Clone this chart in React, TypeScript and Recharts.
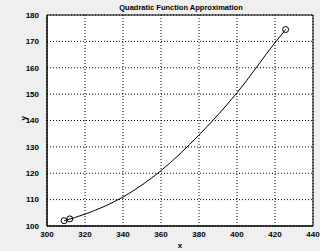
import { ComposedChart, Line, Scatter, XAxis, YAxis, CartesianGrid, ReferenceArea } from "recharts";

const xTicks = [300, 320, 340, 360, 380, 400, 420, 440];
const yTicks = [100, 110, 120, 130, 140, 150, 160, 170, 180];

// fitted curve
const curveX = [309, 320, 340, 360, 380, 400, 420, 425.6];
const curveY = [102, 104.5, 111, 121, 134.5, 150.5, 169.5, 174.5];

// sample points (circles)
const pointX = [309, 312, 425.6];
const pointY = [102, 102.7, 174.5];

const curve = curveX.map((x, i) => ({ x, y: curveY[i] }));
const points = pointX.map((x, i) => ({ x, y: pointY[i] }));

const tickStyle = { fontSize: 8, fontWeight: 700, fill: "#000", fontFamily: "Liberation Sans, Arial" };

const Ring = (p: any) => <circle cx={p.cx} cy={p.cy} r={3} fill="none" stroke="#000" strokeWidth={1} />;

export default function App() {
  return (
    <div style={{ position: "absolute", left: 0, top: 0, width: 320, height: 251, background: "#efefef" }}>
      <ComposedChart width={320} height={251} margin={{ top: 15, right: 7, bottom: 0, left: 0 }}>
        <CartesianGrid
          stroke="#000"
          strokeDasharray="1 2"
          fill="#fff"
          fillOpacity={1}
        />
        <XAxis
          type="number"
          dataKey="x"
          domain={[300, 440]}
          ticks={xTicks}
          interval={0}
          height={25}
          tick={{ ...tickStyle, dy: -3 }}
          tickLine={false}
          axisLine={{ stroke: "#000" }}
          allowDuplicatedCategory={false}
          label={{ value: "x", position: "insideBottom", offset: 3, style: tickStyle }}
        />
        <YAxis
          type="number"
          dataKey="y"
          domain={[100, 180]}
          ticks={yTicks}
          interval={0}
          width={47}
          tick={tickStyle}
          tickLine={false}
          axisLine={{ stroke: "#000" }}
          label={{ value: "y", angle: -90, position: "insideLeft", offset: 23, style: tickStyle }}
        />
        <ReferenceArea x1={300} x2={440} y1={100} y2={180} fill="none" stroke="#000" strokeWidth={1} ifOverflow="visible" />
        <Line
          data={curve}
          dataKey="y"
          type="monotone"
          stroke="#000"
          strokeWidth={1}
          dot={false}
          isAnimationActive={false}
        />
        <Scatter data={points} dataKey="y" shape={Ring} isAnimationActive={false} />
        <text x={181} y={10} textAnchor="middle" style={{ ...tickStyle, fontSize: 7.5 }}>
          Quadratic Function Approximation
        </text>
      </ComposedChart>
    </div>
  );
}
